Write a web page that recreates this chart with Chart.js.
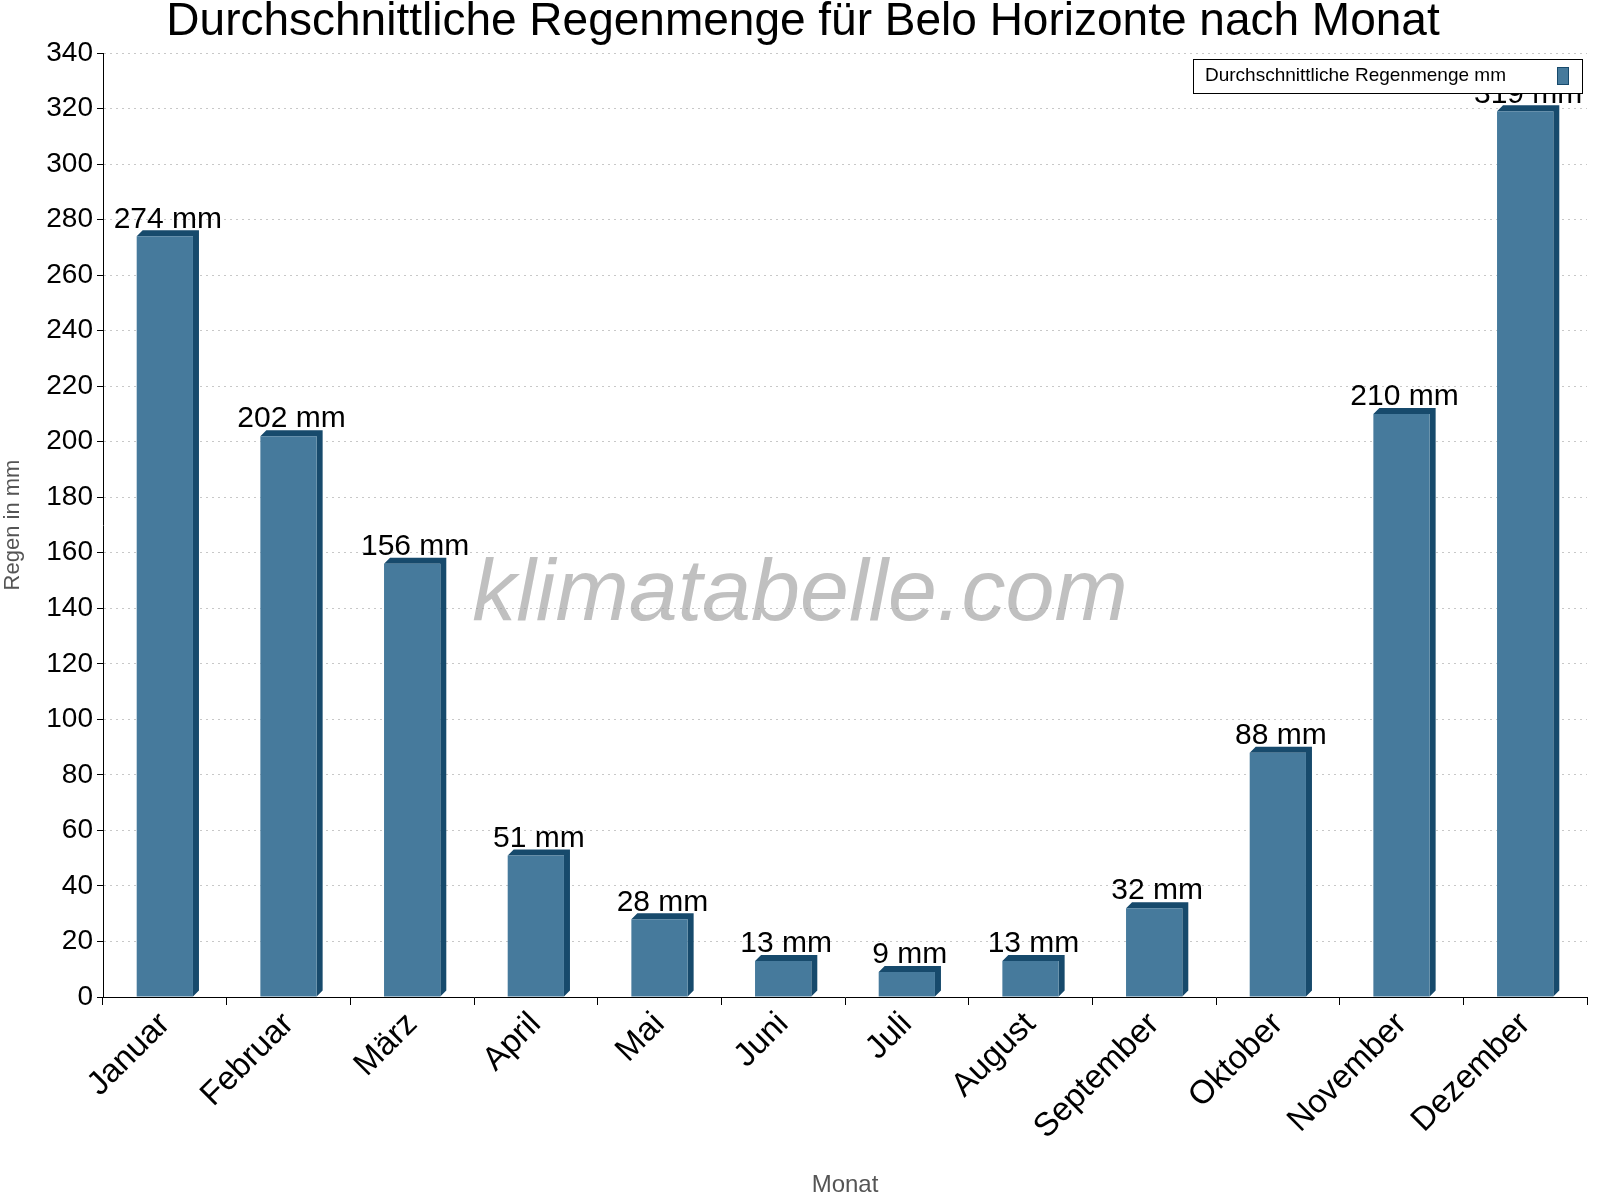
<!DOCTYPE html>
<html><head><meta charset="utf-8">
<script src="https://cdn.jsdelivr.net/npm/chart.js@4.4.0/dist/chart.umd.min.js"></script>
<style>html,body{margin:0;padding:0;background:#fff}#c{display:block}</style>
</head><body>
<div style="width:1600px;height:1200px"><canvas id="c"></canvas></div>
<script>
const months = ['Januar','Februar','März','April','Mai','Juni','Juli','August','September','Oktober','November','Dezember'];
const rain = [274,202,156,51,28,13,9,13,32,88,210,319];
const yTicks = [0,20,40,60,80,100,120,140,160,180,200,220,240,260,280,300,320,340];
const seriesLabel = 'Durchschnittliche Regenmenge mm';
const FONT = '"Liberation Sans", Arial, sans-serif';
const FRONT = '#467a9c', DARK = '#174a6c';

const depth = {
  id:'depth',
  beforeDatasetsDraw(ch){
    const c = ch.ctx, d = 6;
    ch.getDatasetMeta(0).data.forEach(b=>{
      const l = b.x - b.width/2, r = b.x + b.width/2;
      c.fillStyle = DARK;
      c.beginPath();
      c.moveTo(l, b.y); c.lineTo(l+d, b.y-d); c.lineTo(r+d, b.y-d);
      c.lineTo(r+d, b.base-d); c.lineTo(r, b.base); c.lineTo(r, b.y); c.closePath();
      c.fill();
    });
  },
  afterDatasetsDraw(ch){
    const c = ch.ctx;
    c.save();
    c.fillStyle = '#000'; c.font = '30px '+FONT; c.textAlign='center'; c.textBaseline='bottom';
    ch.getDatasetMeta(0).data.forEach((b,i)=>{ c.fillText(rain[i]+' mm', b.x+3, b.y-2); });
    // watermark
    c.fillStyle = 'rgba(150,150,150,0.6)'; c.font = 'italic 88px '+FONT; c.textAlign='center'; c.textBaseline='middle';
    c.fillText('klimatabelle.com', 800, 596);
    // title
    c.fillStyle='#000'; c.font='46px '+FONT; c.textBaseline='middle';
    c.fillText('Durchschnittliche Regenmenge für Belo Horizonte nach Monat', 803, 22);
    // legend
    c.fillStyle='#fff'; c.fillRect(1193,59,389,34);
    c.strokeStyle='#000'; c.lineWidth=1; c.strokeRect(1193.5,59.5,389,34);
    c.fillStyle='#000'; c.font='19px '+FONT; c.textAlign='left';
    c.fillText(seriesLabel, 1205, 76);
    c.fillStyle=FRONT; c.fillRect(1557,67,11,17);
    c.strokeStyle=DARK; c.strokeRect(1557.5,67.5,11,17);
    c.restore();
  }
};

new Chart(document.getElementById('c'), {
  type:'bar',
  data:{labels:months, datasets:[{label:seriesLabel, data:rain, backgroundColor:FRONT, borderWidth:0, categoryPercentage:1, barPercentage:0.455}]},
  plugins:[depth],
  options:{
    responsive:true, maintainAspectRatio:false, animation:false,
    layout:{padding:{top:53, right:13, left:0, bottom:0}},
    plugins:{legend:{display:false}, title:{display:false}, tooltip:{enabled:false}},
    scales:{
      x:{
        grid:{offset:true, drawOnChartArea:false, color:'#000', tickLength:8},
        border:{color:'#000'},
        ticks:{color:'#000', font:{family:FONT,size:33}, minRotation:45, maxRotation:45, padding:0},
        title:{display:true, text:'Monat', color:'#555', font:{family:FONT,size:24}, padding:{top:0,bottom:0}},
        afterFit(s){ s.height = 203; }
      },
      y:{
        min:0, max:340,
        afterBuildTicks(s){ s.ticks = yTicks.map(v=>({value:v})); },
        grid:{color:'#c8c8c8', tickLength:6, tickColor:'#000'},
        border:{color:'#000', dash:[2,4]},
        ticks:{color:'#000', font:{family:FONT,size:28}, padding:4},
        title:{display:true, text:'Regen in mm', color:'#555', font:{family:FONT,size:22}, padding:0},
        afterFit(s){ s.width = 103; }
      }
    }
  }
});
</script>
</body></html>
